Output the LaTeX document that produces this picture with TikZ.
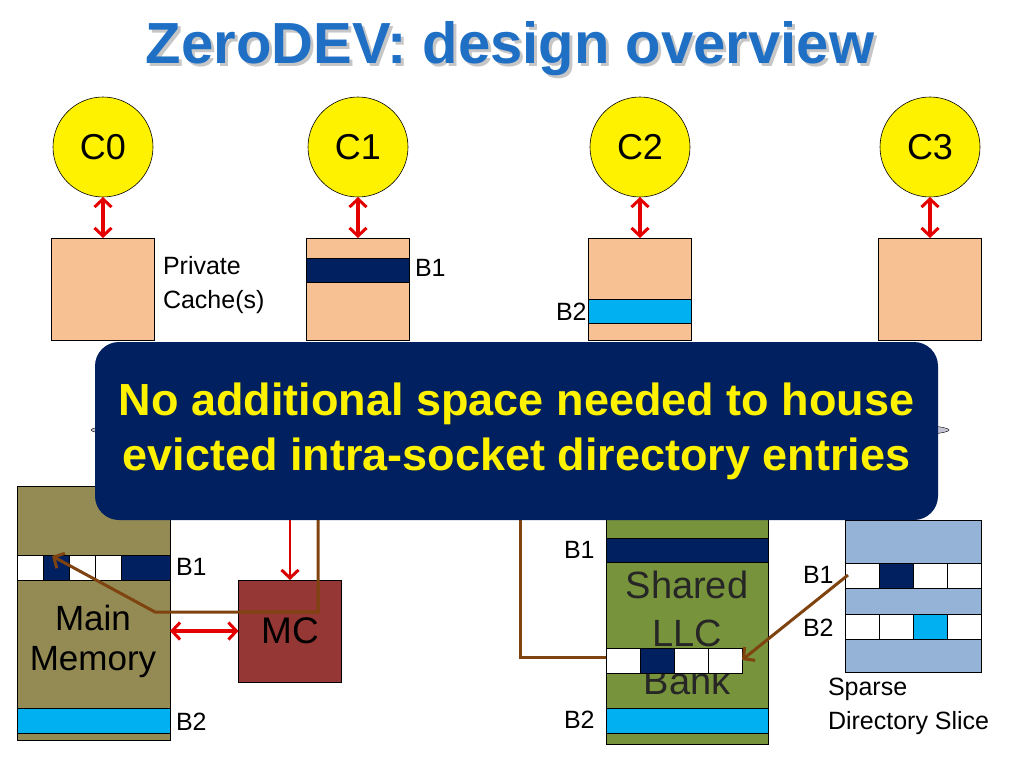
\documentclass[tikz,border=0pt]{standalone}
\usepackage{fontspec}
\setmainfont{Liberation Sans}
\usetikzlibrary{positioning,arrows.meta,shapes.geometric}
\definecolor{peach}{HTML}{F7C194}
\definecolor{navy}{HTML}{002060}
\definecolor{sky}{HTML}{00B0F0}
\definecolor{olive}{HTML}{948A54}
\definecolor{llcgreen}{HTML}{77933C}
\definecolor{mcred}{HTML}{953735}
\definecolor{dirblue}{HTML}{95B3D7}
\definecolor{brownline}{HTML}{7F4310}
\definecolor{titleblue}{HTML}{1F6FC5}
\begin{document}
\begin{tikzpicture}[x=1pt,y=-1pt]
\tikzset{every node/.style={inner sep=0pt,outer sep=0pt}}
\tikzset{core/.style={circle,draw=black,semithick,fill=yellow,minimum size=100pt,font=\fontsize{36}{36}\selectfont}}
\tikzset{cachebox/.style={draw=black,semithick,fill=peach,minimum width=103pt,minimum height=102pt}}
\tikzset{lbl/.style={font=\fontsize{25}{34}\selectfont,align=left,anchor=west}}
\tikzset{big/.style={font=\fontsize{37}{45}\selectfont,align=center}}
\tikzset{barb/.tip={Straight Barb[length=8pt,width=17pt,line width=3pt]}}
\tikzset{rarrow/.style={draw=red!90!black,line width=3.5pt,{barb}-{barb}}}
\tikzset{rsingle/.style={draw=red!85!black,line width=2.5pt,-{barb}}}
\tikzset{bline/.style={draw=brownline,line width=3pt}}
\tikzset{cell/.style={draw=black,fill=white,line width=1pt}}

\useasboundingbox (0,0) rectangle (1024,768);

% title
\node[font=\bfseries\fontsize{58}{58}\selectfont,text=gray!45] at (513,52) {ZeroDEV: design overview};
\node[font=\bfseries\fontsize{58}{58}\selectfont,text=titleblue] (title) at (510,49) {ZeroDEV: design overview};

% cores and private caches
\foreach \n/\x in {0/103,1/358,2/640,3/930}{
  \node[core] (C\n) at (\x,147) {C\n};
  \node[cachebox] (P\n) at (\x,289) {};
  \draw[rarrow] (C\n.south) -- (P\n.north);
}
\fill[navy] (P1.north west)++(0,20) rectangle ++(103,24);
\draw[black] (P1.north west)++(0,20) rectangle ++(103,24);
\fill[sky] (P2.north west)++(0,61) rectangle ++(103,24);
\draw[black] (P2.north west)++(0,61) rectangle ++(103,24);
\node[lbl] (privlbl) at (163,285) {Private\\Cache(s)};
\node[lbl] (b1p) at (415,268) {B1};
\node[lbl] (b2p) at (556,312) {B2};

% main memory
\node[draw=black,semithick,fill=olive,minimum width=153pt,minimum height=254pt] (mem) at (93.5,613) {};
\fill[navy] (17,555) rectangle (170,580);
\foreach \i in {0,2,3}{\draw[cell] (17+\i*26,555) rectangle ++(26,25);}
\fill[sky] (17,708) rectangle (170,733);
\draw (17,708) rectangle (170,733) (17,555) rectangle (170,580);
\node[big,font=\fontsize{35}{40}\selectfont] (memlbl) at (93,641) {Main\\Memory};
\node[lbl] (b1m) at (176,567) {B1};
\node[lbl] (b2m) at (176,722) {B2};

% memory controller
\node[draw=black,semithick,fill=mcred,minimum width=103pt,minimum height=102pt,big] (mc) at (290,631) {MC};
\draw[rarrow] (mem.east|-mc) -- (mc.west);

% shared llc bank
\node[draw=black,semithick,fill=llcgreen,minimum width=162pt,minimum height=235pt] (llc) at (687,627) {};
\fill[navy] (606,538) rectangle (768,562);
\fill[sky] (606,708) rectangle (768,733);
\draw (606,538) rectangle (768,562) (606,708) rectangle (768,733);
\node[big,font=\fontsize{38}{48}\selectfont,text=black!85] (llclbl) at (687,633) {Shared\\LLC\\Bank};
\foreach \i in {0,2,3}{\draw[cell] (606+\i*34,648) rectangle ++(34,25);}
\draw[cell,fill=navy] (640,648) rectangle ++(34,25);
\coordinate (llcrow) at (742,660);
\node[lbl] (b1l) at (564,550) {B1};
\node[lbl] (b2l) at (564,720) {B2};

% sparse directory slice
\node[draw=black,semithick,fill=dirblue,minimum width=136pt,minimum height=152pt] (dir) at (913,596) {};
\foreach \i in {0,2,3}{\draw[cell] (845+\i*34,563) rectangle ++(34,25);}
\draw[cell,fill=navy] (879,563) rectangle ++(34,25);
\foreach \i in {0,1,3}{\draw[cell] (845+\i*34,614) rectangle ++(34,25);}
\draw[cell,fill=sky] (913,614) rectangle ++(34,25);
\coordinate (dirrow) at (848,575);
\node[lbl] (b1d) at (803,575) {B1};
\node[lbl] (b2d) at (803,628) {B2};
\node[lbl] (dirlbl) at (828,706) {Sparse\\Directory Slice};

% connectors
\coordinate (memrow) at (52,556);
\draw[bline,-{barb}] (318,510) -- (318,612) -- (155,612) -- (memrow);
\draw[rsingle] (290,510) -- (mc.north);
\draw[bline] (520,510) -- (520,657) -- (606,657);
\draw[bline,-{barb}] (dirrow) -- (llcrow);

% interconnect and overlay
\node[ellipse,draw=black,fill=blue!15!gray!40,minimum width=858pt,minimum height=30pt] (ring) at (520,430) {};
\node[fill=navy,rounded corners=24pt,minimum width=843pt,minimum height=178pt,
  text=yellow,font=\bfseries\fontsize{45}{55}\selectfont,align=center] (note) at (516.5,431)
  {No additional space needed to house\\evicted intra-socket directory entries};
\end{tikzpicture}
\end{document}
